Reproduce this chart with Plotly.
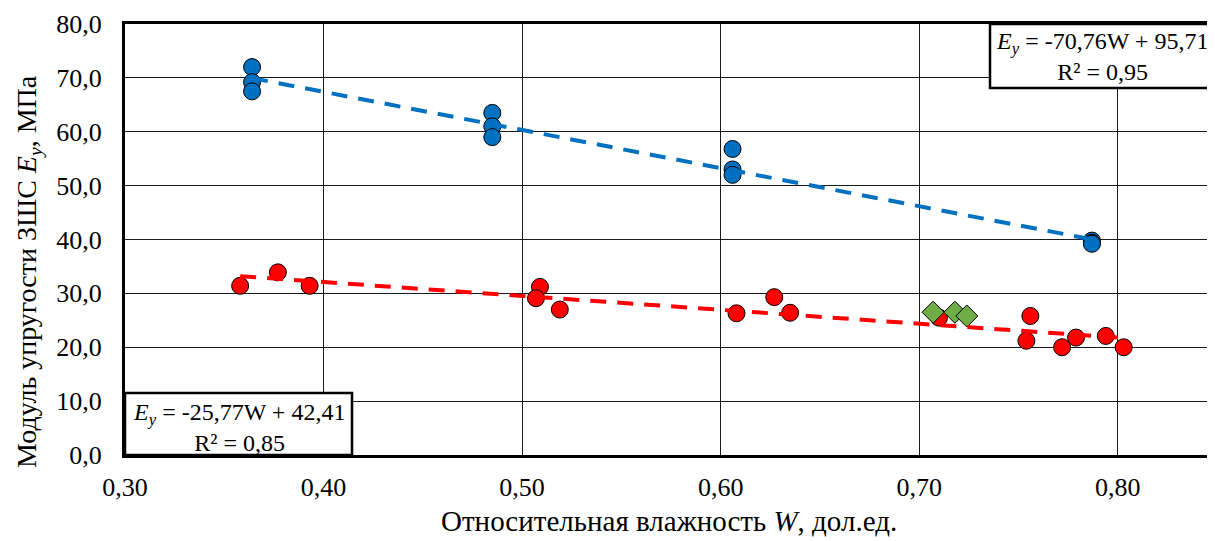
import plotly.graph_objects as go

# Blue series (upper)
blue_w = [0.364, 0.364, 0.364, 0.485, 0.485, 0.485, 0.606, 0.606, 0.606, 0.787, 0.787, 0.787]
blue_e = [72.0, 69.2, 67.5, 63.5, 61.0, 59.0, 56.8, 53.0, 52.0, 39.8, 39.4, 39.2]

# Red series (lower)
red_w = [0.358, 0.377, 0.393, 0.509, 0.507, 0.519, 0.608, 0.627, 0.635,
         0.710, 0.756, 0.754, 0.772, 0.779, 0.794, 0.803]
red_e = [31.4, 33.9, 31.4, 31.2, 29.1, 27.0, 26.3, 29.3, 26.4,
         25.5, 25.8, 21.2, 20.0, 21.8, 22.1, 20.0]

# Green diamonds
green_w = [0.707, 0.718, 0.724]
green_e = [26.5, 26.5, 25.8]

# Trend line coefficients (from the equations shown)
blue_slope, blue_icpt = -70.76, 95.71
red_slope, red_icpt = -25.77, 42.41

x_ticks = [0.30, 0.40, 0.50, 0.60, 0.70, 0.80]
y_ticks = [0, 10, 20, 30, 40, 50, 60, 70, 80]

FONT = "Liberation Serif"
BLUE = "#0070C0"
RED = "#FF0000"
GREEN = "#70AD47"

fig = go.Figure()

fig.add_trace(go.Scatter(x=blue_w, y=blue_e, mode="markers",
                         marker=dict(symbol="circle", size=17, color=BLUE,
                                     line=dict(color="black", width=1)),
                         showlegend=False))
fig.add_trace(go.Scatter(x=red_w, y=red_e, mode="markers",
                         marker=dict(symbol="circle", size=17, color=RED,
                                     line=dict(color="black", width=1)),
                         showlegend=False))
fig.add_trace(go.Scatter(x=green_w, y=green_e, mode="markers",
                         marker=dict(symbol="diamond", size=17, color=GREEN,
                                     line=dict(color="black", width=1)),
                         showlegend=False))

bx = [min(blue_w), max(blue_w)]
fig.add_trace(go.Scatter(x=bx, y=[blue_slope * v + blue_icpt for v in bx], mode="lines",
                         line=dict(color=BLUE, width=4, dash="16px,11px"),
                         showlegend=False))
rx = [min(red_w), max(red_w)]
fig.add_trace(go.Scatter(x=rx, y=[red_slope * v + red_icpt for v in rx], mode="lines",
                         line=dict(color=RED, width=4, dash="16px,11px"),
                         showlegend=False))

# page has an 8px body margin: figure is offset by (8, 8)
OFF = 8
W, H = 1215 - OFF, 541 - OFF
L, R, T, B = 125 - OFF, 0, 24 - OFF, 86
pw, ph = W - L - R, H - T - B

def px(xp):
    return (xp - OFF - L) / pw

def py(yp):
    return (H - B - (yp - OFF)) / ph

fig.update_layout(
    width=W, height=H,
    margin=dict(l=L, r=R, t=T, b=B),
    paper_bgcolor="white", plot_bgcolor="white",
    separators=",.",
    font=dict(family=FONT, size=24, color="black"),
    xaxis=dict(range=[0.30, 0.849],
               tickvals=x_ticks, tickformat=".2f",
               showgrid=True, gridcolor="#1a1a1a", gridwidth=1,
               showline=True, linecolor="black", linewidth=3, mirror=True,
               ticks="", ticklabelstandoff=7, zeroline=False,
               tickfont=dict(family=FONT, size=26, color="black")),
    yaxis=dict(range=[0, 80], tickvals=y_ticks, tickformat=".1f",
               showgrid=True, gridcolor="#1a1a1a", gridwidth=1,
               showline=True, linecolor="black", linewidth=3,
               ticks="", ticklabelstandoff=15, zeroline=False,
               tickfont=dict(family=FONT, size=26, color="black")),
)

# Equation boxes
fig.add_shape(type="rect", xref="paper", yref="paper",
              x0=px(990), x1=px(1235), y0=py(88), y1=py(24),
              fillcolor="white", line=dict(color="black", width=2.5), layer="above")
fig.add_shape(type="rect", xref="paper", yref="paper",
              x0=px(125), x1=px(352), y0=py(455), y1=py(393),
              fillcolor="white", line=dict(color="black", width=2.5), layer="above")

fig.add_annotation(xref="paper", yref="paper", x=px(1102), y=py(57),
                   text="<i>E<sub>y</sub></i> = -70,76W + 95,71<br>R² = 0,95",
                   showarrow=False, align="center", xanchor="center", yanchor="middle",
                   font=dict(family=FONT, size=24, color="black"))
fig.add_annotation(xref="paper", yref="paper", x=px(239), y=py(427),
                   text="<i>E<sub>y</sub></i> = -25,77W + 42,41<br>R² = 0,85",
                   showarrow=False, align="center", xanchor="center", yanchor="middle",
                   font=dict(family=FONT, size=24, color="black"))

# Axis titles
fig.add_annotation(xref="paper", yref="paper", x=px(669), y=py(521),
                   text="Относительная влажность <i>W</i>, дол.ед.",
                   showarrow=False, xanchor="center", yanchor="middle",
                   font=dict(family=FONT, size=29, color="black"))
fig.add_annotation(xref="paper", yref="paper", x=px(28), y=py(272),
                   text="Модуль упругости ЗШС <i>E<sub>y</sub></i>, МПа",
                   textangle=-90, showarrow=False, xanchor="center", yanchor="middle",
                   font=dict(family=FONT, size=28, color="black"))

fig.write_html("out.html")
